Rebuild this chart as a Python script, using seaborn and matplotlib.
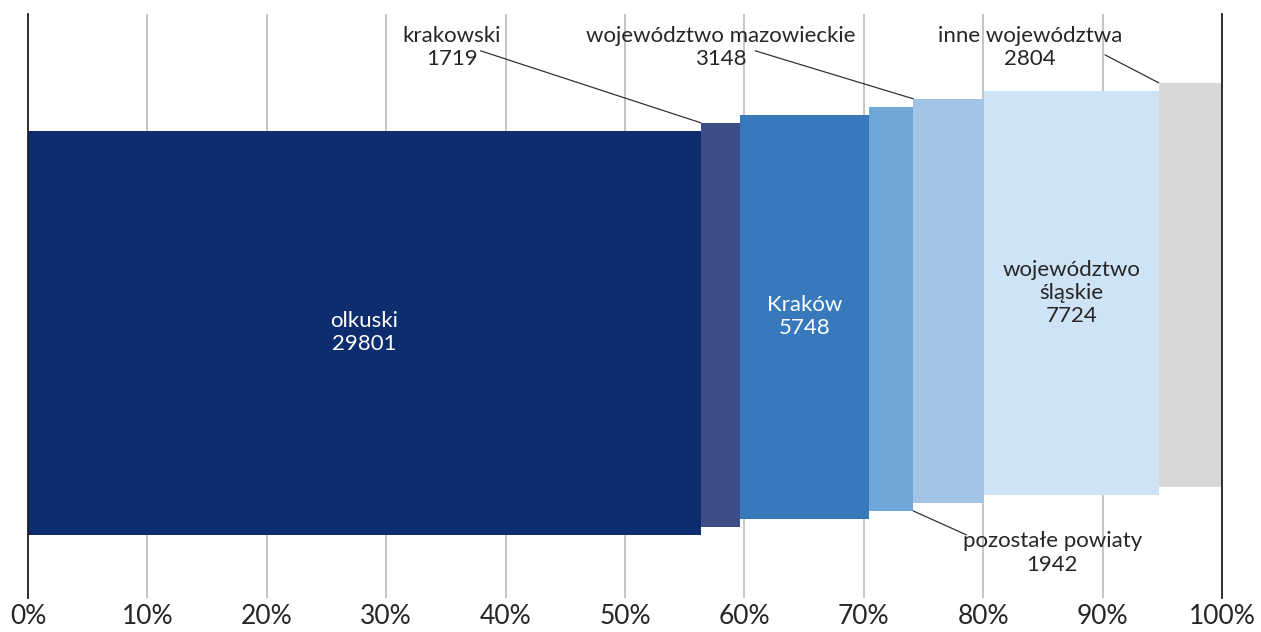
import numpy as np
import matplotlib
matplotlib.use("Agg")
import matplotlib.pyplot as plt
import seaborn as sns

# dane: liczba osób wg miejsca zamieszkania
categories = ["olkuski", "krakowski", "Kraków", "pozostałe powiaty",
              "województwo mazowieckie", "województwo śląskie", "inne województwa"]
values = [29801, 1719, 5748, 1942, 3148, 7724, 2804]
colors = ["#0e2d6f", "#3d4d88", "#3779bb", "#6fa8d6", "#a2c5e7", "#cfe3f6", "#d8d8d8"]
tick_labels = ["0%", "10%", "20%", "30%", "40%", "50%", "60%", "70%", "80%", "90%", "100%"]

sns.set_style("white")
plt.rcParams['font.family'] = ['Lato', 'DejaVu Sans']
txt = "#262626"

vals = np.array(values, dtype=float)
widths = vals / vals.sum() * 100
lefts = np.concatenate([[0], np.cumsum(widths)[:-1]])

bar_h = 0.692
step = 0.0137
bottoms = 0.108 + step * np.arange(len(vals))

fig = plt.figure(figsize=(12.61, 6.32), dpi=100)
ax = fig.add_axes([28 / 1261, 34 / 632, 1194 / 1261, 584 / 632])

ax.bar(lefts, bar_h, width=widths, bottom=bottoms, align="edge",
       color=colors, edgecolor="none", zorder=2)

ax.set_xlim(0, 100)
ax.set_ylim(0, 1)
ax.set_xticks(np.arange(0, 101, 10))
ax.set_xticklabels(tick_labels, fontsize=19, color=txt)
ax.set_yticks([])
ax.tick_params(axis="x", length=0, pad=4)
for x in np.arange(10, 100, 10):
    ax.axvline(x, color="#c0c0c0", lw=1.3, zorder=1)
for s in ["top", "bottom"]:
    ax.spines[s].set_visible(False)
for s in ["left", "right"]:
    ax.spines[s].set_color("#202020")
    ax.spines[s].set_linewidth(1.3)

fs = 16
ls = 1.2
# etykiety wewnątrz słupków
inside = {0: "white", 2: "white", 5: txt}
for i, c in inside.items():
    name = categories[i].replace(" ", "\n") if i == 5 else categories[i]
    ax.text(lefts[i] + widths[i] / 2, bottoms[i] + bar_h / 2, f"{name}\n{values[i]}",
            ha="center", va="center", fontsize=fs, color=c, linespacing=ls, zorder=3)

# etykiety z liniami odniesienia
# (indeks, pozycja tekstu, początek linii, punkt na słupku: top-left / bottom-right)
callouts = [
    (1, (35.5, 0.942), (37.9, 0.937), "top"),
    (4, (58.0, 0.942), (60.9, 0.937), "top"),
    (6, (83.9, 0.942), (90.2, 0.930), "top"),
    (3, (85.8, 0.077), (78.6, 0.108), "bottom"),
]
for i, (tx, ty), (lx, ly), where in callouts:
    ax.text(tx, ty, f"{categories[i]}\n{values[i]}", ha="center", va="center",
            fontsize=fs, color=txt, linespacing=ls, zorder=3)
    if where == "top":
        px, py = lefts[i], bottoms[i] + bar_h
    else:
        px, py = lefts[i] + widths[i], bottoms[i]
    ax.plot([lx, px], [ly, py], color="#333333", lw=0.9, zorder=3)

fig.savefig("out.png", dpi=100)
